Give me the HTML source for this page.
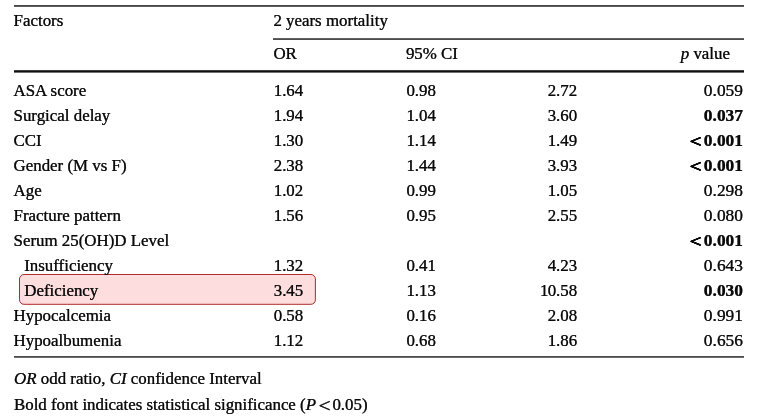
<!DOCTYPE html>
<html><head><meta charset="utf-8"><title>Table</title>
<style>
html,body{margin:0;padding:0;background:#fff;}
body{width:757px;height:417px;position:relative;overflow:hidden;font-family:"Liberation Serif","Times New Roman",serif;font-size:16.9px;color:#0a0a0a;-webkit-text-stroke:0.22px #0a0a0a;text-shadow:0 0 0.6px rgba(0,0,0,0.55);}
.t{position:absolute;white-space:nowrap;line-height:20px;height:20px;}
.r{text-align:right;}
.b{font-weight:bold;}
.p{font-size:17.4px;margin-top:-1px;}
.lt{display:inline-block;font-size:1.16em;line-height:0;transform:scaleX(1.10);transform-origin:right center;position:relative;top:1.5px;margin-right:2.4px;letter-spacing:0;}
.b .lt{text-shadow:0 0 0.5px #000,0.3px 0 0 #000,-0.3px 0 0 #000,0 0.3px 0 #000;font-size:0.97em;transform:scaleX(1.24);margin-right:2.1px;top:1.2px;}
.f .lt{transform-origin:center center;margin:0 2.4px 0 3.0px;top:2.1px;}
</style></head><body>
<svg width="757" height="417" viewBox="0 0 757 417" style="position:absolute;left:0;top:0">
<rect x="14" y="5.1" width="730" height="1.7" fill="#333"/>
<rect x="273" y="38.2" width="471" height="1.7" fill="#3a3a3a"/>
<rect x="14" y="70.2" width="730" height="2.4" fill="#111"/>
<rect x="14" y="356" width="730" height="1.8" fill="#4a4a4a"/>
<rect x="19.5" y="274.5" width="295.9" height="29.8" rx="4.5" ry="4.5" fill="#feddde" stroke="#ad1f1f" stroke-width="0.95"/>
</svg>
<div class="t" style="left:13.6px;top:11px">Factors</div>
<div class="t" style="left:273.4px;top:11px">2 years mortality</div>
<div class="t" style="left:273.4px;top:44px">OR</div>
<div class="t" style="left:405.9px;top:44px">95% CI</div>
<div class="t r" style="right:27px;top:44px"><i>p</i> value</div>

<div class="t" style="left:13.5px;top:81.00px">ASA score</div>
<div class="t" style="left:273.7px;top:81.00px">1.64</div>
<div class="t" style="left:406.4px;top:81.00px">0.98</div>
<div class="t r" style="right:179.8px;top:81.00px">2.72</div>
<div class="t r p" style="right:14px;top:81.00px">0.059</div>
<div class="t" style="left:13.5px;top:106.00px">Surgical delay</div>
<div class="t" style="left:273.7px;top:106.00px">1.94</div>
<div class="t" style="left:406.4px;top:106.00px">1.04</div>
<div class="t r" style="right:179.8px;top:106.00px">3.60</div>
<div class="t r p b" style="right:14px;top:106.00px">0.037</div>
<div class="t" style="left:13.5px;top:131.00px">CCI</div>
<div class="t" style="left:273.7px;top:131.00px">1.30</div>
<div class="t" style="left:406.4px;top:131.00px">1.14</div>
<div class="t r" style="right:179.8px;top:131.00px">1.49</div>
<div class="t r p b" style="right:14px;top:131.00px"><span class="lt">&lt;</span>0.001</div>
<div class="t" style="left:13.5px;top:156.00px">Gender (M vs F)</div>
<div class="t" style="left:273.7px;top:156.00px">2.38</div>
<div class="t" style="left:406.4px;top:156.00px">1.44</div>
<div class="t r" style="right:179.8px;top:156.00px">3.93</div>
<div class="t r p b" style="right:14px;top:156.00px"><span class="lt">&lt;</span>0.001</div>
<div class="t" style="left:13.5px;top:181.00px">Age</div>
<div class="t" style="left:273.7px;top:181.00px">1.02</div>
<div class="t" style="left:406.4px;top:181.00px">0.99</div>
<div class="t r" style="right:179.8px;top:181.00px">1.05</div>
<div class="t r p" style="right:14px;top:181.00px">0.298</div>
<div class="t" style="left:13.5px;top:206.00px">Fracture pattern</div>
<div class="t" style="left:273.7px;top:206.00px">1.56</div>
<div class="t" style="left:406.4px;top:206.00px">0.95</div>
<div class="t r" style="right:179.8px;top:206.00px">2.55</div>
<div class="t r p" style="right:14px;top:206.00px">0.080</div>
<div class="t" style="left:13.5px;top:231.00px">Serum 25(OH)D Level</div>
<div class="t r p b" style="right:14px;top:231.00px"><span class="lt">&lt;</span>0.001</div>
<div class="t" style="left:24.2px;top:256.00px">Insufficiency</div>
<div class="t" style="left:273.7px;top:256.00px">1.32</div>
<div class="t" style="left:406.4px;top:256.00px">0.41</div>
<div class="t r" style="right:179.8px;top:256.00px">4.23</div>
<div class="t r p" style="right:14px;top:256.00px">0.643</div>
<div class="t" style="left:24.2px;top:281.00px">Deficiency</div>
<div class="t" style="left:273.7px;top:281.00px">3.45</div>
<div class="t" style="left:406.4px;top:281.00px">1.13</div>
<div class="t r" style="right:179.8px;top:281.00px"><span style="letter-spacing:-0.8px">1</span>0.58</div>
<div class="t r p b" style="right:14px;top:281.00px">0.030</div>
<div class="t" style="left:13.5px;top:306.00px">Hypocalcemia</div>
<div class="t" style="left:273.7px;top:306.00px">0.58</div>
<div class="t" style="left:406.4px;top:306.00px">0.16</div>
<div class="t r" style="right:179.8px;top:306.00px">2.08</div>
<div class="t r p" style="right:14px;top:306.00px">0.991</div>
<div class="t" style="left:13.5px;top:331.00px">Hypoalbumenia</div>
<div class="t" style="left:273.7px;top:331.00px">1.12</div>
<div class="t" style="left:406.4px;top:331.00px">0.68</div>
<div class="t r" style="right:179.8px;top:331.00px">1.86</div>
<div class="t r p" style="right:14px;top:331.00px">0.656</div>
<div class="t f" style="left:14px;top:368.6px"><i>OR</i> odd ratio, <i>CI</i> confidence Interval</div>
<div class="t f" style="left:14px;top:394.8px;letter-spacing:-0.012px">Bold font indicates statistical significance (<i>P</i><span class="lt">&lt;</span>0.05)</div>
</body></html>
